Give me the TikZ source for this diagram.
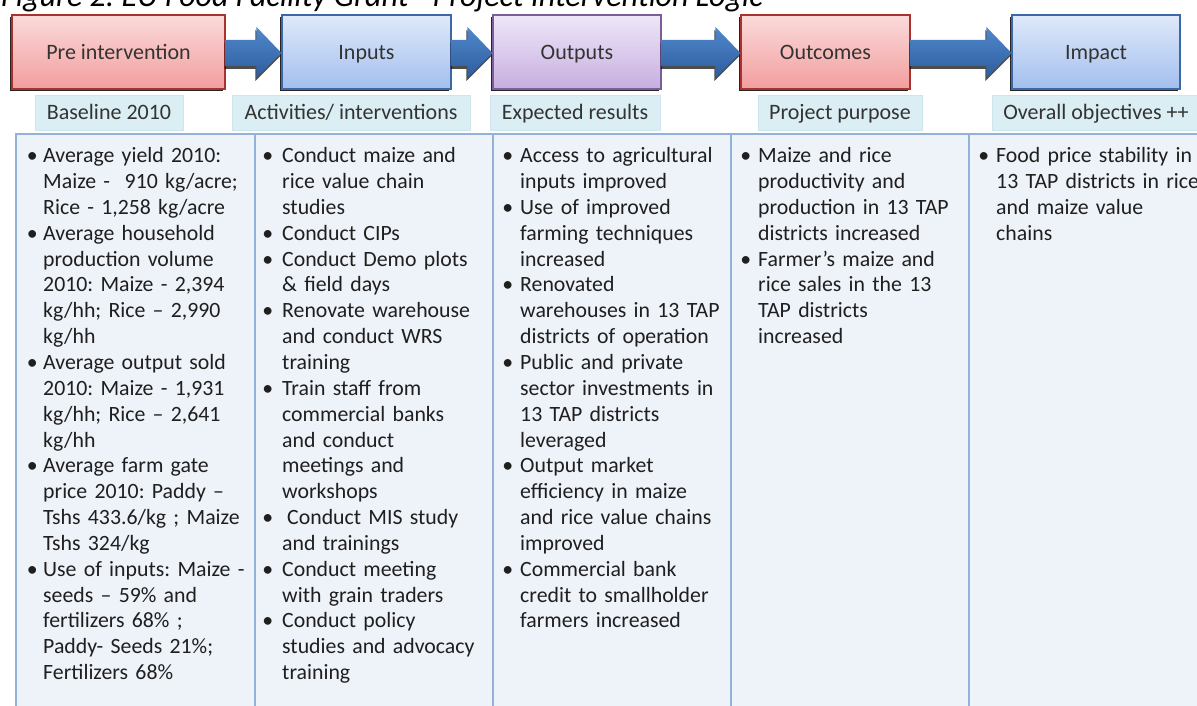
\documentclass[tikz,border=0pt]{standalone}
\usepackage{fontspec}
\setmainfont{Carlito}
\usetikzlibrary{shadows,calc}
\frenchspacing

\definecolor{redtop}{HTML}{FBDADA}
\definecolor{redbot}{HTML}{F29E9E}
\definecolor{redline}{HTML}{A8322F}
\definecolor{bluetop}{HTML}{DFE9FA}
\definecolor{bluebot}{HTML}{A3BFEE}
\definecolor{blueline}{HTML}{3C68A8}
\definecolor{purptop}{HTML}{EFE7F8}
\definecolor{purpbot}{HTML}{C6AEE0}
\definecolor{purpline}{HTML}{7B5D9C}
\definecolor{arrowtop}{HTML}{5088CC}
\definecolor{arrowbot}{HTML}{2D5D9D}
\definecolor{subfill}{HTML}{DBEEF4}
\definecolor{subline}{HTML}{CFE5EE}
\definecolor{tablefill}{HTML}{EEF2F9}
\definecolor{tableline}{HTML}{93B2DA}
\definecolor{hdrtxt}{HTML}{333333}
\definecolor{txt}{HTML}{1F1F1F}

% bullet hung to the left of the line start
\newcommand\bul[1][7pt]{\leavevmode\llap{\textbullet\hspace{#1}}}

% block arrow between two boxes, with its shadow
\newcommand\linkarrow[2]{%
  \fill[arrowshadow] let \p1=(#1.east), \p2=(#2.west) in
    (\x1-1pt,\y1+12pt-3pt) -- (\x2-25pt-1pt,\y1+12pt-3pt) -- (\x2-25pt-1pt,\y1+25pt-3pt)
    -- (\x2-1pt,\y1-1pt-3pt) -- (\x2-25pt-1pt,\y1-26pt-3pt) -- (\x2-25pt-1pt,\y1-14pt-3pt)
    -- (\x1-1pt,\y1-14pt-3pt) -- cycle;
  \shade[fatarrow] let \p1=(#1.east), \p2=(#2.west) in
    (\x1,\y1+12pt) -- (\x2-25pt,\y1+12pt) -- (\x2-25pt,\y1+25pt)
    -- (\x2,\y1-1pt) -- (\x2-25pt,\y1-26pt) -- (\x2-25pt,\y1-14pt)
    -- (\x1,\y1-14pt) -- cycle;
}

\begin{document}
\begin{tikzpicture}[x=1pt,y=-1pt,
  hdr/.style={draw, line width=1.1pt, minimum height=74pt, text=hdrtxt,
    text height=19pt, text depth=3pt,
    font=\fontsize{22}{26}\selectfont,
    drop shadow={shadow xshift=-2pt, shadow yshift=-2.5pt, opacity=.85, fill=black}},
  redbox/.style={hdr, draw=redline, top color=redtop, bottom color=redbot},
  bluebox/.style={hdr, draw=blueline, top color=bluetop, bottom color=bluebot},
  purplebox/.style={hdr, draw=purpline, top color=purptop, bottom color=purpbot},
  sub/.style={fill=subfill, draw=subline, line width=.6pt, minimum height=35pt,
    text height=19pt, text depth=4pt,
    text=hdrtxt, font=\fontsize{22}{26}\selectfont},
  cell/.style={fill=tablefill, draw=tableline, line width=1.8pt, minimum width=238pt,
    minimum height=620pt, anchor=north west, inner sep=0},
  coltext/.style={anchor=north west, inner sep=0, text width=214pt, align=left,
    text=txt, font=\fontsize{21.8}{25.85}\selectfont},
  titletext/.style={anchor=base west, inner sep=0, font=\itshape\fontsize{32}{36}\selectfont, text=black},
  fatarrow/.style={top color=arrowtop, bottom color=arrowbot},
  arrowshadow/.style={fill=black, opacity=.7}
]
\useasboundingbox (0,0) rectangle (1197,706);
\clip (0,0) rectangle (1197,706);
\fill[white] (0,0) rectangle (1197,706);

% caption line
\node[titletext] (title) at (1,7) {Figure 2: EU Food Facility Grant - Project Intervention Logic};

% stage boxes
\node[redbox, minimum width=213pt] (pre) at (118.5,52) {Pre intervention};
\node[bluebox, minimum width=169pt] (inp) at (366.5,52) {Inputs};
\node[purplebox, minimum width=168pt] (outp) at (577,52) {Outputs};
\node[redbox, minimum width=169pt] (outc) at (825.5,52) {Outcomes};
\node[bluebox, minimum width=168pt] (imp) at (1096,52) {Impact};

\linkarrow{pre}{inp}
\linkarrow{inp}{outp}
\linkarrow{outp}{outc}
\linkarrow{outc}{imp}

% column labels
\node[sub, minimum width=148pt] (s1) at (109,112.5) {Baseline 2010};
\node[sub, minimum width=238pt] (s2) at (351,112.5) {Activities/ interventions};
\node[sub, minimum width=170pt] (s3) at (575,112.5) {Expected results};
\node[sub, minimum width=164pt] (s4) at (840,112.5) {Project purpose};
\node[sub, minimum width=208pt] (s5) at (1096,112.5) {Overall objectives ++};

% table columns
\node[cell, minimum width=239pt] (c1) at (15,133) {};
\node[cell] (c2) at (254,133) {};
\node[cell] (c3) at (492,133) {};
\node[cell] (c4) at (730,133) {};
\node[cell] (c5) at (968,133) {};

\node[coltext] (t1) at ($(c1.north west)+(28,11.4)$) {\strut\bul[5.5pt]Average yield 2010:\\
Maize -\ \ 910 kg/acre;\\
Rice - 1,258 kg/acre\\
\bul[5.5pt]Average household\\
production volume\\
2010: Maize - 2,394\\
kg/hh; Rice – 2,990\\
kg/hh\\
\bul[5.5pt]Average output sold\\
2010: Maize - 1,931\\
kg/hh; Rice – 2,641\\
kg/hh\\
\bul[5.5pt]Average farm gate\\
price 2010: Paddy –\\
Tshs 433.6/kg ; Maize\\
Tshs 324/kg\\
\bul[5.5pt]Use of inputs: Maize -\\
seeds – 59\% and\\
fertilizers 68\% ;\\
Paddy- Seeds 21\%;\\
Fertilizers 68\%};

\node[coltext] (t2) at ($(c2.north west)+(28,11.4)$) {\strut\bul[9pt]Conduct maize and\\
rice value chain\\
studies\\
\bul[9pt]Conduct CIPs\\
\bul[9pt]Conduct Demo plots\\
\& field days\\
\bul[9pt]Renovate warehouse\\
and conduct WRS\\
training\\
\bul[9pt]Train staff from\\
commercial banks\\
and conduct\\
meetings and\\
workshops\\
\bul[9pt]\hspace{5pt}Conduct MIS study\\
and trainings\\
\bul[9pt]Conduct meeting\\
with grain traders\\
\bul[9pt]Conduct policy\\
studies and advocacy\\
training};

\node[coltext] (t3) at ($(c3.north west)+(28,11.4)$) {\strut\bul Access to agricultural\\
inputs improved\\
\bul Use of improved\\
farming techniques\\
increased\\
\bul Renovated\\
warehouses in 13 TAP\\
districts of operation\\
\bul Public and private\\
sector investments in\\
13 TAP districts\\
leveraged\\
\bul Output market\\
efficiency in maize\\
and rice value chains\\
improved\\
\bul Commercial bank\\
credit to smallholder\\
farmers increased};

\node[coltext] (t4) at ($(c4.north west)+(28,11.4)$) {\strut\bul Maize and rice\\
productivity and\\
production in 13 TAP\\
districts increased\\
\bul Farmer’s maize and\\
rice sales in the 13\\
TAP districts\\
increased};

\node[coltext] (t5) at ($(c5.north west)+(28,11.4)$) {\strut\bul Food price stability in\\
13 TAP districts in rice\\
and maize value\\
chains};
\end{tikzpicture}
\end{document}
